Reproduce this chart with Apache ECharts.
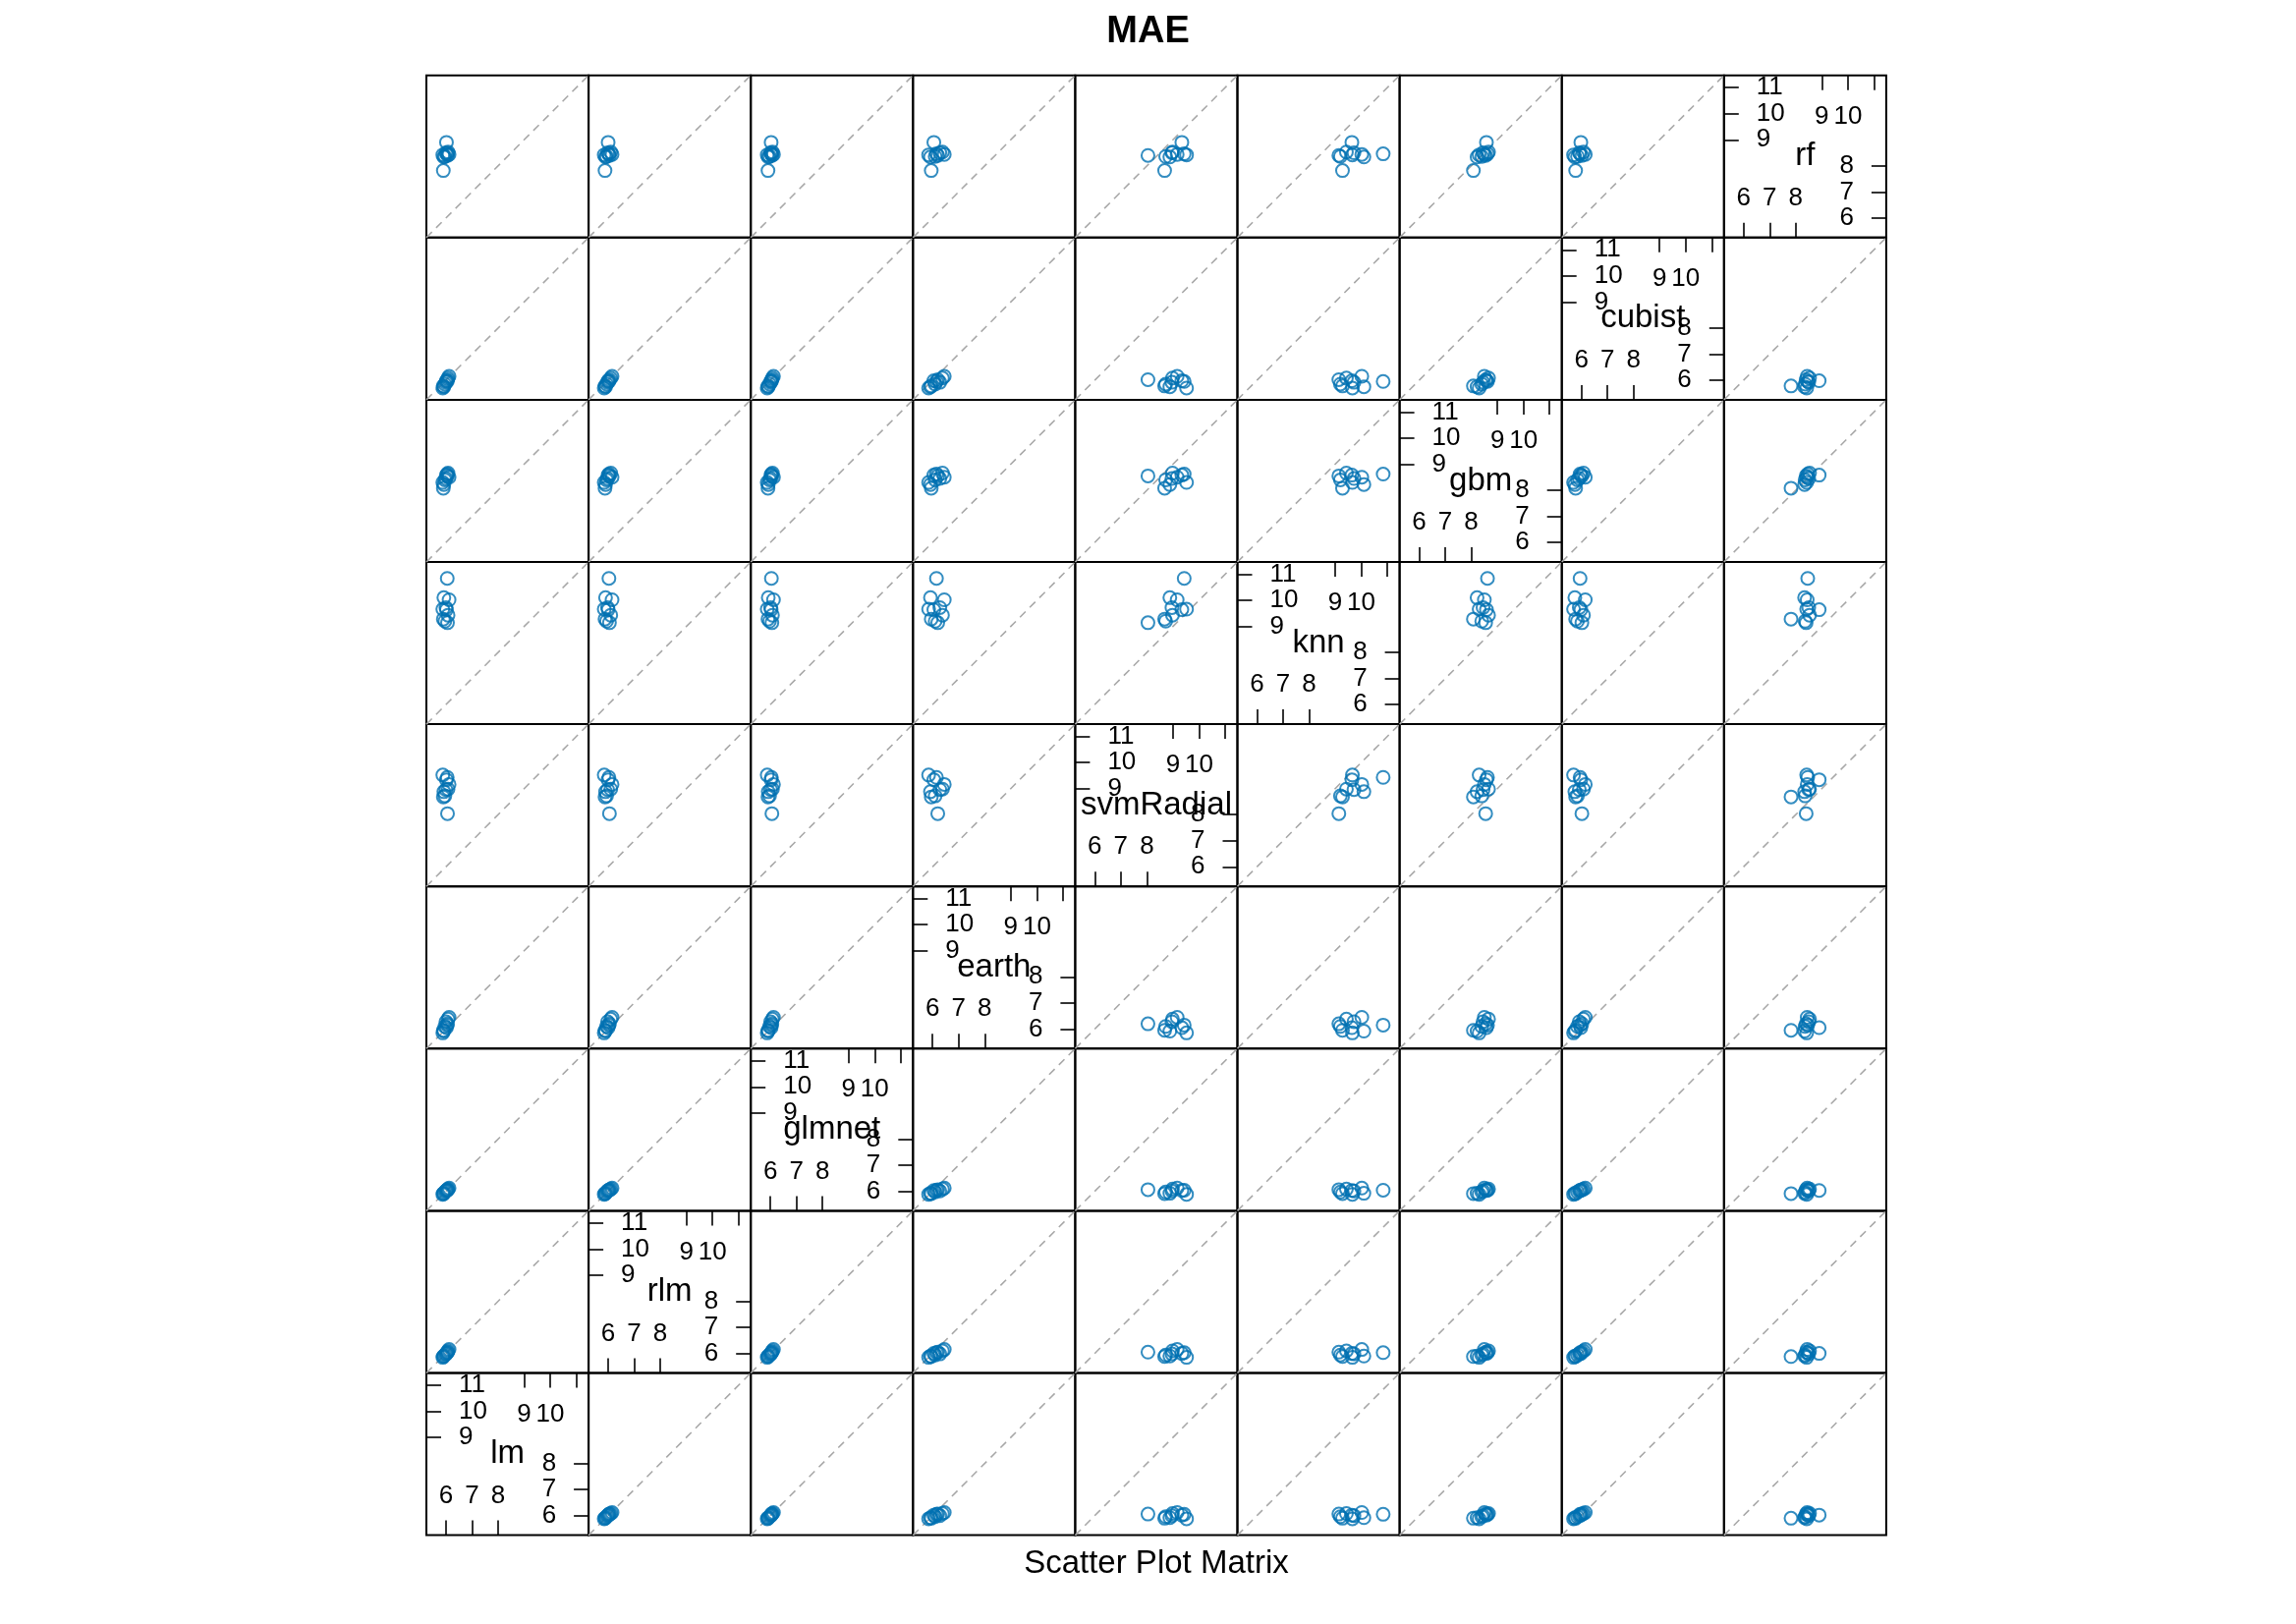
<!DOCTYPE html>
<html>
<head>
<meta charset="utf-8">
<script src="https://cdn.jsdelivr.net/npm/echarts@6/dist/echarts.min.js"></script>
<style>
html,body{margin:0;padding:0;background:#fff;}
#chart{width:2337px;height:1653px;}
</style>
</head>
<body>
<div id="chart"></div>
<script>
// ---- data (MAE per resample, 10 resamples) ----
const models = ['lm','rlm','glmnet','earth','svmRadial','knn','gbm','cubist','rf'];
const lm        = [6.05, 5.92, 6.12, 6.00, 5.88, 6.02, 6.08, 5.90, 5.96, 6.06];
const rlm       = [6.03, 5.90, 6.15, 5.98, 5.85, 6.00, 6.10, 5.88, 5.94, 6.05];
const glmnet    = [6.04, 5.92, 6.12, 6.01, 5.88, 6.03, 6.08, 5.91, 5.97, 6.06];
const earth     = [6.15, 5.92, 6.45, 6.28, 5.85, 6.05, 6.38, 5.95, 6.10, 6.20];
const svmRadial = [9.43, 8.88, 9.16, 8.96, 9.52, 9.34, 8.98, 8.68, 8.72, 8.04];
const knn       = [10.84, 10.10, 10.02, 9.72, 9.66, 9.64, 9.43, 9.28, 9.20, 9.14];
const gbm       = [8.62, 8.22, 8.50, 8.45, 8.30, 8.58, 8.66, 8.08, 8.40, 8.55];
const cubist    = [5.95, 5.75, 6.15, 5.92, 5.70, 5.98, 6.08, 5.78, 5.85, 6.02];
const rf        = [8.46, 8.34, 8.44, 8.50, 8.42, 8.90, 8.53, 7.82, 8.36, 8.40];
const values = [lm, rlm, glmnet, earth, svmRadial, knn, gbm, cubist, rf];
const axisLimits = [5.25, 11.47];
const lowTicks = [6, 7, 8];
const highTicks = [9, 10, 11];
const topLabels = [9, 10];
const leftLabels = [9, 10, 11];
const titleText = 'MAE';
const xlabText = 'Scatter Plot Matrix';

// ---- layout ----
const FONT = '"Liberation Sans", Arial, Helvetica, sans-serif';
const L0 = 434, T0 = 76.7, P = 165.1, N = models.length;
const PT_COLOR = '#0070b2';

const grids = [], xAxes = [], yAxes = [], series = [];
const [mn, mx] = axisLimits;

for (let row = 0; row < N; row++) {          // row from bottom: y variable
  for (let col = 0; col < N; col++) {        // x variable
    const gi = grids.length;
    grids.push({
      left: L0 + col * P, top: T0 + (N - 1 - row) * P, width: P, height: P,
      show: true, borderColor: '#000', borderWidth: 2, backgroundColor: 'transparent'
    });
    if (row !== col) {
      const xi = xAxes.length, yi = yAxes.length;
      xAxes.push({type: 'value', gridIndex: gi, min: mn, max: mx, show: false});
      yAxes.push({type: 'value', gridIndex: gi, min: mn, max: mx, show: false});
      series.push({
        type: 'line', xAxisIndex: xi, yAxisIndex: yi, silent: true,
        data: [[mn, mn], [mx, mx]], symbol: 'none',
        lineStyle: {color: '#a8a8a8', width: 1.6, type: [8, 6]}, z: 1
      });
      series.push({
        type: 'scatter', xAxisIndex: xi, yAxisIndex: yi, silent: true,
        data: values[col].map((v, k) => [v, values[row][k]]),
        symbol: 'circle', symbolSize: 13,
        itemStyle: {color: 'rgba(0,0,0,0)', borderColor: PT_COLOR, borderWidth: 2},
        z: 2
      });
    } else {
      const tickStyle = {color: '#000', width: 1.6};
      const lab = {inside: true, fontSize: 26, color: '#000', fontFamily: FONT};
      const xb = xAxes.length;
      xAxes.push({type: 'value', gridIndex: gi, min: mn, max: mx, position: 'bottom',
        axisLine: {show: false}, splitLine: {show: false},
        axisTick: {show: true, inside: true, length: 15, customValues: lowTicks, lineStyle: tickStyle},
        axisLabel: Object.assign({customValues: lowTicks, margin: 27}, lab)});
      xAxes.push({type: 'value', gridIndex: gi, min: mn, max: mx, position: 'top',
        axisLine: {show: false}, splitLine: {show: false},
        axisTick: {show: true, inside: true, length: 15, customValues: highTicks, lineStyle: tickStyle},
        axisLabel: Object.assign({customValues: topLabels, margin: 29}, lab)});
      const yl = yAxes.length;
      yAxes.push({type: 'value', gridIndex: gi, min: mn, max: mx, position: 'left',
        axisLine: {show: false}, splitLine: {show: false},
        axisTick: {show: true, inside: true, length: 15, customValues: highTicks, lineStyle: tickStyle},
        axisLabel: Object.assign({customValues: leftLabels, margin: 33}, lab)});
      yAxes.push({type: 'value', gridIndex: gi, min: mn, max: mx, position: 'right',
        axisLine: {show: false}, splitLine: {show: false},
        axisTick: {show: true, inside: true, length: 15, customValues: lowTicks, lineStyle: tickStyle},
        axisLabel: Object.assign({customValues: lowTicks, margin: 33}, lab)});
      const c = (mn + mx) / 2;
      series.push({
        type: 'scatter', xAxisIndex: xb, yAxisIndex: yl, silent: true,
        data: [[c, c]], symbol: 'circle', symbolSize: 0,
        itemStyle: {color: '#000'},
        label: {show: true, position: 'inside', formatter: models[row],
          fontSize: 33, color: '#000', opacity: 1, textBorderWidth: 0, fontFamily: FONT},
        z: 3
      });
    }
  }
}

const chart = echarts.init(document.getElementById('chart'), null, {renderer: 'canvas'});
chart.setOption({
  backgroundColor: '#fff',
  animation: false,
  textStyle: {fontFamily: FONT},
  title: {text: titleText, left: 'center', top: 9,
    textStyle: {fontSize: 38, fontWeight: 'bold', color: '#000', fontFamily: FONT}},
  graphic: [{type: 'text', x: L0 + N * P / 2, y: 1592,
    style: {text: xlabText, fontSize: 33, fill: '#000', font: '33px ' + FONT,
      textAlign: 'center', textVerticalAlign: 'middle'}}],
  grid: grids, xAxis: xAxes, yAxis: yAxes, series: series
});
</script>
</body>
</html>
